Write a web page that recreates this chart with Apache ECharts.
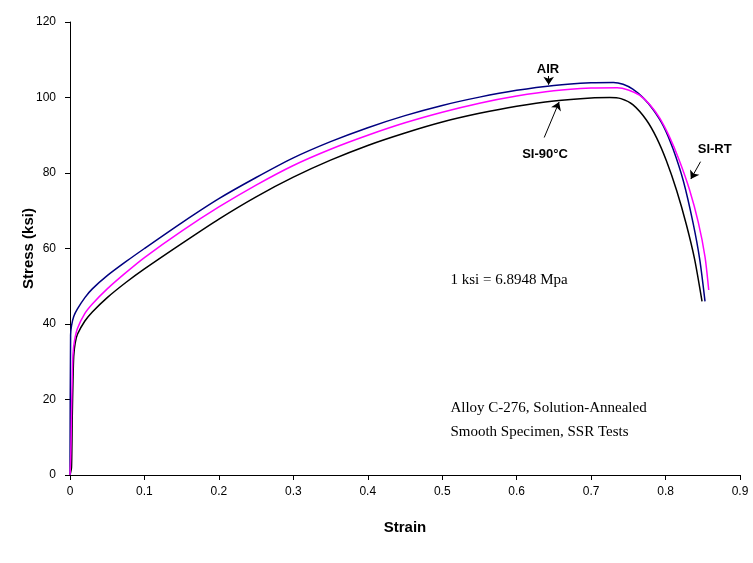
<!DOCTYPE html>
<html>
<head>
<meta charset="utf-8">
<script src="https://cdn.jsdelivr.net/npm/echarts@6/dist/echarts.min.js"></script>
<style>
  html, body { margin: 0; padding: 0; background: #fff; }
  #chart { width: 753px; height: 563px; }
</style>
</head>
<body>
<div id="chart"></div>
<script>
// Stress-strain curves, [strain, stress in ksi]
const airCurve = [
  [0, 0], [0.0008, 37], [0.002, 39.5], [0.005, 42], [0.01, 44], [0.02, 47],
  [0.03, 49.3], [0.05, 52.8], [0.075, 56.5], [0.1, 60], [0.15, 66.8], [0.2, 73.2],
  [0.25, 78.8], [0.3, 84], [0.35, 88.3], [0.4, 92], [0.45, 95.2], [0.5, 97.9],
  [0.55, 100.1], [0.6, 101.9], [0.65, 103.2], [0.7, 103.9], [0.73, 104], [0.743, 103.5],
  [0.756, 102.2], [0.77, 99.9], [0.783, 96.9], [0.797, 92.5], [0.81, 86.4], [0.824, 77.8],
  [0.837, 66.7], [0.846, 57], [0.853, 46]
];
const siRtCurve = [
  [0, 0], [0.001, 5], [0.002, 16], [0.003, 26], [0.004, 32], [0.006, 35.5], [0.01, 38.8],
  [0.02, 42.8], [0.03, 45.3], [0.05, 49.3], [0.075, 53.6], [0.1, 57.6], [0.15, 64.6],
  [0.2, 71], [0.25, 76.8], [0.3, 82], [0.35, 86.3], [0.4, 90], [0.45, 93.3], [0.5, 96.1],
  [0.55, 98.5], [0.6, 100.4], [0.65, 101.8], [0.7, 102.5], [0.735, 102.6], [0.75, 102],
  [0.765, 100.6], [0.779, 98.1], [0.792, 94.6], [0.805, 89.7], [0.818, 83.6],
  [0.832, 75.7], [0.844, 66.9], [0.853, 57.8], [0.858, 49]
];
const si90Curve = [
  [0, 0], [0.002, 2], [0.003, 15], [0.004, 25], [0.005, 31.5], [0.007, 35], [0.01, 37.3],
  [0.02, 40.8], [0.03, 43.2], [0.05, 47], [0.075, 51], [0.1, 54.6], [0.15, 61.3],
  [0.2, 67.8], [0.25, 73.7], [0.3, 78.9], [0.35, 83.4], [0.4, 87.3], [0.45, 90.6],
  [0.5, 93.5], [0.55, 95.8], [0.6, 97.7], [0.65, 99.1], [0.7, 99.9], [0.725, 100],
  [0.74, 99.7], [0.756, 98.1], [0.774, 94.1], [0.788, 89.3], [0.801, 83.3],
  [0.815, 75.3], [0.828, 66.3], [0.839, 57.2], [0.849, 46]
];

// Curve labels: text, anchor point, arrow tail, arrow tip (data space)
const curveLabels = [
  { text: 'AIR',     at: [0.642, 107.4], tail: [0.643, 105.7], tip: [0.643, 103.4] },
  { text: 'SI-90°C', at: [0.638, 84.9],  tail: [0.637, 89.4],  tip: [0.657, 98.8] },
  { text: 'SI-RT',   at: [0.866, 86.2],  tail: [0.847, 83],    tip: [0.834, 78.4] }
];
// Notes (left anchor, data space)
const notes = [
  { text: '1 ksi = 6.8948 Mpa', at: [0.511, 51.7] },
  { text: 'Alloy C-276, Solution-Annealed', at: [0.511, 17.7] },
  { text: 'Smooth Specimen, SSR Tests', at: [0.511, 11.4] }
];

const chart = echarts.init(document.getElementById('chart'));
const axisText = { color: '#000', fontFamily: 'Liberation Sans, Arial, sans-serif', fontSize: 12 };

function curve(name, data, color) {
  return {
    name, type: 'line', data, showSymbol: false, smooth: 0.25,
    lineStyle: { color, width: 1.5 }, z: 3, animation: false
  };
}

chart.setOption({
  animation: false,
  backgroundColor: '#fff',
  grid: { left: 70, right: 13, top: 22, bottom: 88 },
  xAxis: {
    type: 'value', min: 0, max: 0.9, interval: 0.1,
    name: 'Strain', nameLocation: 'middle', nameGap: 45, nameMoveOverlap: false,
    nameTextStyle: { color: '#000', fontFamily: 'Liberation Sans, Arial, sans-serif', fontSize: 15, fontWeight: 'bold' },
    axisLine: { lineStyle: { color: '#000', width: 1 } },
    axisTick: { inside: false, length: 5, lineStyle: { color: '#000' } },
    axisLabel: Object.assign({ margin: 11, formatter: v => String(+v.toFixed(1)) }, axisText),
    splitLine: { show: false }
  },
  yAxis: {
    type: 'value', min: 0, max: 120, interval: 20,
    name: 'Stress (ksi)', nameLocation: 'middle', nameGap: 34, nameMoveOverlap: false,
    nameTextStyle: { color: '#000', fontFamily: 'Liberation Sans, Arial, sans-serif', fontSize: 15, fontWeight: 'bold' },
    axisLine: { show: true, lineStyle: { color: '#000', width: 1 } },
    axisTick: { show: true, inside: false, length: 5, lineStyle: { color: '#000' } },
    axisLabel: Object.assign({ margin: 14 }, axisText),
    splitLine: { show: false }
  },
  series: [
    curve('SI-90°C', si90Curve, '#000000'),
    curve('AIR', airCurve, '#000080'),
    curve('SI-RT', siRtCurve, '#ff00ff'),
    {
      type: 'line', data: [], silent: true,
      markLine: {
        silent: true, animation: false, symbol: ['none', 'arrow'], symbolSize: 8,
        lineStyle: { color: '#000', width: 1, type: 'solid' }, label: { show: false },
        emphasis: { disabled: true },
        data: curveLabels.map(c => [{ coord: c.tail }, { coord: c.tip }])
      }
    }
  ]
});

// Text annotations placed from data coordinates
const g = [];
curveLabels.forEach(c => {
  const p = chart.convertToPixel({ gridIndex: 0 }, c.at);
  g.push({ type: 'text', x: p[0], y: p[1], style: {
    text: c.text, fill: '#000', font: 'bold 13px "Liberation Sans", Arial, sans-serif',
    align: 'center', verticalAlign: 'middle' } });
});
notes.forEach(n => {
  const p = chart.convertToPixel({ gridIndex: 0 }, n.at);
  g.push({ type: 'text', x: p[0], y: p[1], style: {
    text: n.text, fill: '#000', font: '15px "Liberation Serif", "Times New Roman", serif',
    align: 'left', verticalAlign: 'middle' } });
});
chart.setOption({ graphic: g });
</script>
</body>
</html>
